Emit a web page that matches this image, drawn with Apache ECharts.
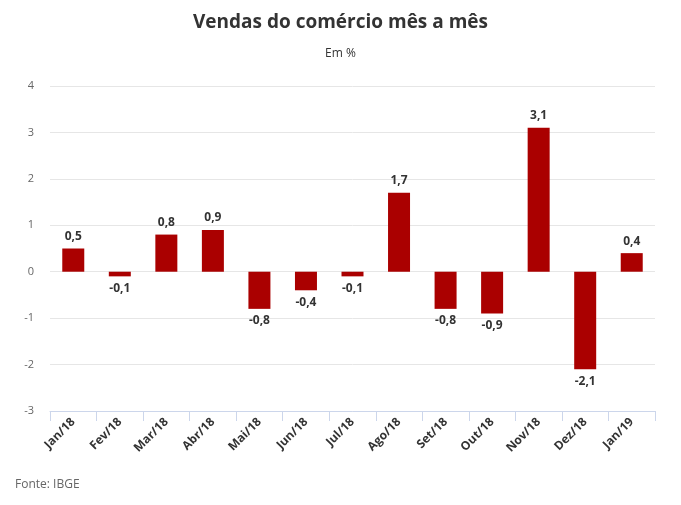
<!DOCTYPE html>
<html>
<head>
<meta charset="utf-8">
<script src="https://cdn.jsdelivr.net/npm/echarts@6/dist/echarts.min.js"></script>
<style>
html,body{margin:0;padding:0;background:#fff;}
#c{width:681px;height:505px;}
</style>
</head>
<body>
<div id="c"></div>
<script>
const categories = ['Jan/18','Fev/18','Mar/18','Abr/18','Mai/18','Jun/18','Jul/18','Ago/18','Set/18','Out/18','Nov/18','Dez/18','Jan/19'];
const values = [0.5, -0.1, 0.8, 0.9, -0.8, -0.4, -0.1, 1.7, -0.8, -0.9, 3.1, -2.1, 0.4];
const yTicks = [-3, -2, -1, 0, 1, 2, 3, 4];

const font = '"Open Sans", "Noto Sans", sans-serif';
const chart = echarts.init(document.getElementById('c'), null, {renderer: 'canvas'});
chart.setOption({
  animation: false,
  backgroundColor: '#fff',
  title: [
    {text: 'Vendas do comércio mês a mês', left: 'center', top: 8,
     textStyle: {fontFamily: font, fontSize: 19, fontWeight: 'bold', color: '#333'}},
    {text: 'Em %', left: 'center', top: 43,
     textStyle: {fontFamily: font, fontSize: 12, fontWeight: 'normal', color: '#333'}},
    {text: 'Fonte: IBGE', left: 10, top: 474,
     textStyle: {fontFamily: font, fontSize: 12, fontWeight: 'normal', color: '#666'}}
  ],
  grid: {left: 50, right: 26, top: 86, bottom: 94, containLabel: false},
  xAxis: {
    type: 'category',
    data: categories,
    axisLine: {onZero: false, lineStyle: {color: '#ccd6eb'}},
    axisTick: {show: true, length: 10, lineStyle: {color: '#ccd6eb'}},
    axisLabel: {rotate: 45, fontFamily: font, fontSize: 12, fontWeight: 'bold', color: '#333', margin: 9, interval: 0}
  },
  yAxis: {
    type: 'value',
    min: yTicks[0], max: yTicks[yTicks.length - 1], interval: 1,
    axisLine: {show: false},
    axisTick: {show: false},
    splitLine: {lineStyle: {color: '#e6e6e6'}},
    axisLabel: {fontFamily: font, fontSize: 11, color: '#666', margin: 16}
  },
  series: [{
    type: 'bar',
    data: values.map(v => ({
      value: v,
      label: {position: v >= 0 ? 'top' : 'bottom'}
    })),
    barWidth: 22,
    itemStyle: {color: '#aa0000'},
    label: {
      show: true,
      fontFamily: font, fontSize: 12, fontWeight: 'bold', color: '#333',
      distance: 6,
      formatter: p => String(p.value).replace('.', ',')
    }
  }]
});
</script>
</body>
</html>
